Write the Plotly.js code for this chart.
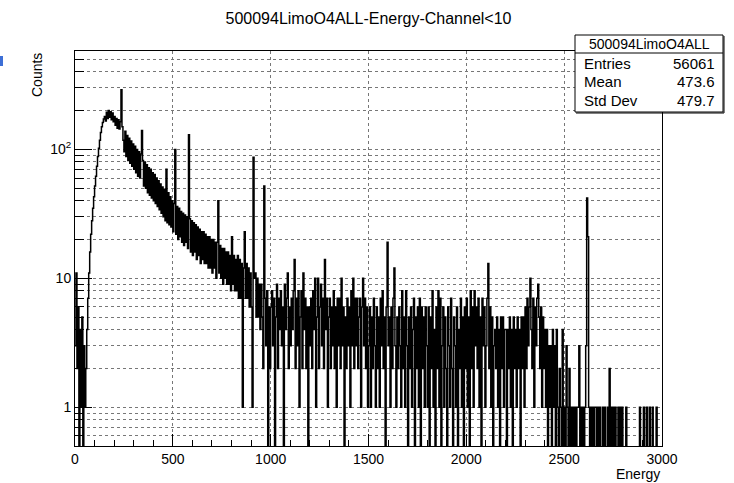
<!DOCTYPE html>
<html>
<head>
<meta charset="utf-8">
<script src="https://cdn.plot.ly/plotly-3.0.1.min.js"></script>
<style>
html, body { margin: 0; padding: 0; background: #fff; }
#plot { width: 734px; height: 483px; }
</style>
</head>
<body>
<div id="plot"></div>
<script>
// Energy spectrum, counts per 5 keV bin, split by 500 keV ranges.
const binWidth = 5;

const counts0000 = [
  3, 11, 2, 6, 0, 4, 1, 5, 0, 3,
  1, 2, 4, 7, 11, 16, 22, 28, 35, 43,
  52, 62, 74, 88, 102, 118, 135, 150, 162, 172,
  180, 166, 194, 174, 200, 178, 196, 170, 192, 164,
  180, 154, 174, 146, 170, 144, 164, 290, 150, 118,
  96, 138, 88, 128, 82, 122, 78, 116, 74, 110,
  70, 106, 66, 100, 62, 96, 60, 92, 140, 82,
  52, 80, 50, 76, 46, 72, 44, 70, 42, 66,
  40, 64, 38, 60, 36, 57, 34, 54, 32, 51,
  30, 49, 28, 70, 27, 46, 26, 43, 25, 40
];
const counts0500 = [
  23, 38, 100, 22, 36, 20, 35, 21, 33, 19,
  32, 18, 31, 19, 30, 17, 130, 29, 16, 28,
  15, 27, 16, 26, 14, 25, 15, 24, 13, 23,
  14, 23, 13, 22, 13, 21, 12, 21, 12, 20,
  11, 20, 12, 19, 10, 19, 40, 11, 18, 10,
  17, 9, 17, 10, 16, 9, 16, 9, 15, 8,
  21, 9, 15, 8, 14, 8, 15, 7, 14, 7,
  13, 1, 12, 23, 7, 13, 7, 12, 6, 11,
  6, 1, 87, 10, 11, 5, 10, 5, 9, 4,
  9, 5, 2, 52, 7, 3, 8, 0, 6, 2
];
const counts1000 = [
  6, 8, 3, 7, 0, 5, 9, 2, 7, 4,
  8, 3, 6, 0, 9, 4, 7, 11, 2, 6,
  3, 7, 4, 8, 14, 2, 7, 3, 8, 1,
  5, 8, 2, 11, 4, 7, 2, 6, 0, 6,
  3, 7, 2, 8, 4, 10, 1, 5, 10, 2,
  6, 9, 3, 7, 2, 14, 4, 7, 1, 5,
  7, 2, 6, 3, 8, 2, 6, 1, 7, 3,
  7, 2, 10, 3, 6, 0, 5, 2, 7, 3,
  6, 1, 8, 3, 10, 2, 7, 3, 7, 2,
  5, 7, 1, 6, 10, 3, 7, 2, 6, 1
];
const counts1500 = [
  3, 6, 1, 5, 2, 7, 3, 1, 6, 2,
  5, 1, 7, 3, 8, 2, 5, 0, 6, 19,
  3, 5, 1, 6, 2, 7, 12, 3, 1, 5,
  2, 6, 3, 1, 8, 2, 5, 1, 8, 3,
  0, 5, 2, 6, 1, 4, 7, 0, 5, 2,
  6, 1, 7, 0, 6, 2, 5, 1, 6, 3,
  1, 6, 0, 5, 2, 8, 1, 4, 0, 6,
  2, 8, 1, 7, 0, 3, 6, 1, 5, 2,
  0, 6, 3, 1, 7, 2, 0, 5, 3, 1,
  6, 0, 4, 2, 7, 1, 5, 0, 6, 2
];
const counts2000 = [
  7, 1, 5, 0, 8, 2, 6, 1, 8, 3,
  6, 2, 7, 1, 5, 0, 7, 3, 6, 1,
  3, 7, 13, 2, 6, 1, 5, 0, 3, 4,
  2, 5, 1, 4, 0, 5, 2, 5, 1, 4,
  4, 0, 4, 2, 5, 1, 4, 0, 5, 2,
  4, 1, 5, 2, 4, 0, 5, 2, 5, 1,
  6, 2, 7, 3, 6, 10, 4, 2, 7, 1,
  6, 3, 7, 9, 5, 2, 6, 1, 5, 2,
  4, 1, 4, 0, 3, 1, 3, 0, 4, 1,
  3, 0, 4, 1, 0, 2, 1, 0, 4, 0
];
const counts2500 = [
  1, 0, 3, 1, 0, 2, 0, 1, 0, 1,
  0, 1, 0, 1, 1, 3, 0, 1, 0, 1,
  0, 1, 3, 42, 21, 1, 0, 1, 0, 1,
  0, 1, 1, 0, 1, 0, 1, 0, 0, 1,
  0, 1, 0, 0, 1, 0, 2, 0, 1, 0,
  1, 0, 1, 0, 0, 1, 0, 1, 0, 1,
  0, 0, 0, 1, 0, 0, 0, 0, 0, 0,
  0, 0, 0, 0, 0, 0, 0, 1, 0, 0,
  0, 1, 0, 0, 1, 0, 0, 1, 0, 0,
  1, 0, 0, 0, 1, 0, 0, 0, 0, 0
];

const xTickVals = [0, 500, 1000, 1500, 2000, 2500, 3000];
const yTickVals = [1, 10, 100];
const yTickText = ['1', '10', '10<sup>2</sup>'];
const yMinorVals = [0.6, 0.7, 0.8, 0.9, 2, 3, 4, 5, 6, 7, 8, 9,
                    20, 30, 40, 50, 60, 70, 80, 90, 200, 300, 400, 500];

const histTitle = '500094LimoO4ALL-Energy-Channel&lt;10';
const xTitle = 'Energy';
const yTitle = 'Counts';
const statsName = '500094LimoO4ALL';
const statsLabels = ['Entries', 'Mean', 'Std Dev'];
const statsValues = ['56061', '473.6', '479.7'];

// Histogram outline: empty bins drop below the log-axis floor like ROOT does.
const counts = [].concat(counts0000, counts0500, counts1000, counts1500, counts2000, counts2500);
const xs = [], ys = [];
counts.forEach((c, i) => { xs.push(i * binWidth); ys.push(c > 0 ? c : 0.05); });
xs.push(counts.length * binWidth);
ys.push(ys[ys.length - 1]);

// Canvas geometry (pixels)
const W = 734, H = 483;
const L = 75, R = 662, T = 51, B = 446;
const px = p => (p - L) / (R - L);
const py = p => (B - p) / (B - T);

const font = 'Liberation Sans, Arial, Helvetica, sans-serif';
const gridColor = '#777';

const trace = {
  x: xs, y: ys, type: 'scatter', mode: 'lines',
  line: { shape: 'hv', color: '#000', width: 1.5 },
  hoverinfo: 'skip'
};

const statRows = [63, 82, 100];
const annotations = [
  { text: yTitle, xref: 'paper', yref: 'paper', x: px(37), y: 1, xanchor: 'center', yanchor: 'top',
    textangle: -90, showarrow: false, font: { family: font, size: 14, color: '#000' } },
  { text: xTitle, xref: 'paper', yref: 'paper', x: 1, y: py(474), xanchor: 'right', yanchor: 'middle',
    showarrow: false, font: { family: font, size: 14, color: '#000' } },
  { text: statsName, xref: 'paper', yref: 'paper', x: px(649), y: py(44), xanchor: 'center', yanchor: 'middle',
    showarrow: false, font: { family: font, size: 14, color: '#000' } }
];
statsLabels.forEach((lab, i) => {
  annotations.push({ text: lab, xref: 'paper', yref: 'paper', x: px(582), y: py(statRows[i]),
    xanchor: 'left', yanchor: 'middle', showarrow: false, font: { family: font, size: 15, color: '#000' } });
  annotations.push({ text: statsValues[i], xref: 'paper', yref: 'paper', x: px(717), y: py(statRows[i]),
    xanchor: 'right', yanchor: 'middle', showarrow: false, font: { family: font, size: 15, color: '#000' } });
});

const shapes = [
  // stats box
  { type: 'rect', xref: 'paper', yref: 'paper', x0: px(575), x1: px(723), y0: py(112), y1: py(35),
    fillcolor: '#fff', line: { color: '#000', width: 1 }, layer: 'above' },
  { type: 'line', xref: 'paper', yref: 'paper', x0: px(575), x1: px(723), y0: py(53), y1: py(53),
    line: { color: '#000', width: 1 }, layer: 'above' },
  { type: 'line', xref: 'paper', yref: 'paper', x0: px(724), x1: px(724), y0: py(113), y1: py(36),
    line: { color: '#000', width: 1 }, layer: 'above' },
  { type: 'line', xref: 'paper', yref: 'paper', x0: px(576), x1: px(724), y0: py(113), y1: py(113),
    line: { color: '#000', width: 1 }, layer: 'above' },
  // small blue mark at the left edge
  { type: 'rect', xref: 'paper', yref: 'paper', x0: px(0), x1: px(3), y0: py(66), y1: py(56),
    fillcolor: '#3d6fd6', line: { width: 0 }, layer: 'above' }
];

const layout = {
  width: W, height: H,
  margin: { l: L, r: W - R, t: T, b: H - B, pad: 0 },
  paper_bgcolor: '#fff', plot_bgcolor: '#fff',
  showlegend: false,
  title: { text: histTitle, x: 0.5, xref: 'paper', xanchor: 'center',
           y: 1 - 18 / H, yref: 'container', yanchor: 'middle',
           font: { family: font, size: 16, color: '#000' } },
  xaxis: {
    range: [0, 3000], tickmode: 'array', tickvals: xTickVals,
    ticks: 'inside', ticklen: 12, tickwidth: 1, tickcolor: '#000',
    showline: true, mirror: true, linecolor: '#000', linewidth: 1,
    showgrid: true, gridcolor: gridColor, griddash: 'dot', gridwidth: 1,
    zeroline: false,
    tickfont: { family: font, size: 14, color: '#000' },
    minor: { dtick: 100, tick0: 0, ticks: 'inside', ticklen: 6, tickwidth: 1, tickcolor: '#000', showgrid: false }
  },
  yaxis: {
    type: 'log', range: [Math.log10(0.5), Math.log10(580)],
    tickmode: 'array', tickvals: yTickVals, ticktext: yTickText,
    ticks: 'inside', ticklen: 17, tickwidth: 1, tickcolor: '#000',
    showline: true, mirror: true, linecolor: '#000', linewidth: 1,
    showgrid: true, gridcolor: gridColor, griddash: 'dot', gridwidth: 1,
    zeroline: false,
    tickfont: { family: font, size: 14, color: '#000' },
    minor: { tickmode: 'array', tickvals: yMinorVals, ticks: 'inside', ticklen: 9, tickwidth: 1,
             tickcolor: '#000', showgrid: true, gridcolor: gridColor, griddash: 'dot', gridwidth: 1 }
  },
  annotations: annotations,
  shapes: shapes
};

Plotly.newPlot('plot', [trace], layout, { staticPlot: true, displayModeBar: false });
</script>
</body>
</html>
